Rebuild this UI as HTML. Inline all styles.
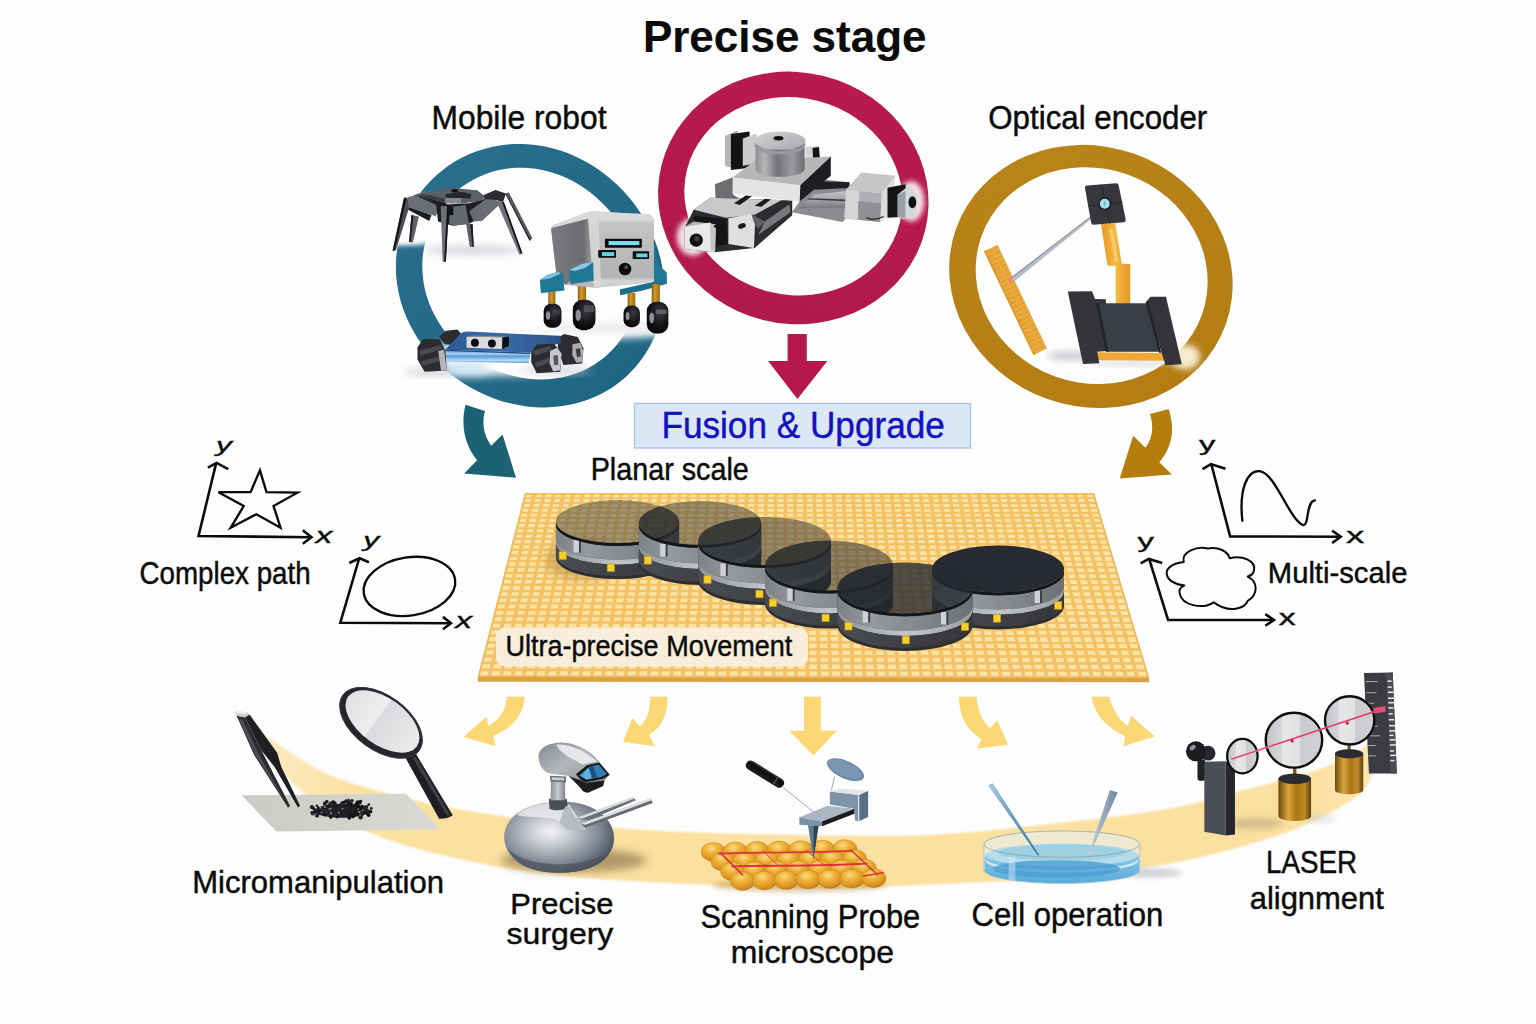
<!DOCTYPE html>
<html lang="en">
<head>
<meta charset="utf-8">
<title>Precise stage – Fusion &amp; Upgrade</title>
<style>
html,body{margin:0;padding:0;background:#fdfdfd;}
body{width:1536px;height:1024px;overflow:hidden;position:relative;font-family:"Liberation Sans",sans-serif;}
svg{position:absolute;left:0;top:0;display:block;}
text{font-family:"Liberation Sans",sans-serif;fill:#0b0b0b;}
.lbl{font-size:31px;}
.ax{font-size:24px;font-style:italic;}
</style>
</head>
<body>
<svg width="1536" height="1024" viewBox="0 0 1536 1024">
<defs>
  <filter id="b1" x="-20%" y="-20%" width="140%" height="140%"><feGaussianBlur stdDeviation="1"/></filter>
  <filter id="b2" x="-20%" y="-20%" width="140%" height="140%"><feGaussianBlur stdDeviation="2.2"/></filter>
  <filter id="b4" x="-30%" y="-30%" width="160%" height="160%"><feGaussianBlur stdDeviation="4"/></filter>
  <filter id="b8" x="-40%" y="-40%" width="180%" height="180%"><feGaussianBlur stdDeviation="8"/></filter>
  <filter id="b16" x="-50%" y="-50%" width="200%" height="200%"><feGaussianBlur stdDeviation="16"/></filter>
  <filter id="b30" x="-60%" y="-60%" width="220%" height="220%"><feGaussianBlur stdDeviation="30"/></filter>
  <filter id="b50" x="-80%" y="-80%" width="260%" height="260%"><feGaussianBlur stdDeviation="50"/></filter>
</defs>
<rect width="1536" height="1024" fill="#fdfdfd"/>
<!-- ===== rings ===== -->
<defs>
  <linearGradient id="gBlue" x1="0" y1="0" x2="1" y2="1">
    <stop offset="0" stop-color="#2b6f8e"/><stop offset="1" stop-color="#1c6580"/>
  </linearGradient>
  <linearGradient id="gRed" x1="0" y1="0" x2="0" y2="1">
    <stop offset="0" stop-color="#b81a4e"/><stop offset="1" stop-color="#b01a4a"/>
  </linearGradient>
  <linearGradient id="gGold" x1="0" y1="0" x2="1" y2="1">
    <stop offset="0" stop-color="#b9841a"/><stop offset="1" stop-color="#b27c12"/>
  </linearGradient>
</defs>
<g id="rings">
  <path fill-rule="evenodd" fill="url(#gBlue)" d="M663.3 275.0 C664.0 280.9 664.3 287.0 664.1 293.0 C663.9 299.1 663.3 305.2 662.2 311.2 C661.1 317.2 659.5 323.2 657.5 329.0 C655.4 334.8 652.9 340.6 650.0 346.0 C647.1 351.4 643.6 356.7 639.9 361.6 C636.1 366.5 631.9 371.2 627.4 375.4 C622.9 379.6 618.0 383.5 612.9 386.9 C607.8 390.3 602.3 393.4 596.8 395.9 C591.3 398.5 585.5 400.6 579.7 402.3 C574.0 404.0 568.0 405.3 562.1 406.1 C556.3 407.0 550.3 407.4 544.4 407.4 C538.6 407.5 532.7 407.1 527.0 406.4 C521.3 405.7 515.6 404.6 510.1 403.3 C504.6 402.0 499.2 400.3 493.9 398.4 C488.7 396.4 483.6 394.2 478.6 391.8 C473.7 389.3 468.9 386.6 464.2 383.7 C459.6 380.8 455.1 377.6 450.8 374.3 C446.5 370.9 442.4 367.3 438.5 363.5 C434.6 359.7 430.9 355.7 427.4 351.4 C423.9 347.2 420.6 342.8 417.6 338.2 C414.6 333.5 411.8 328.7 409.4 323.7 C406.9 318.7 404.8 313.5 402.9 308.2 C401.1 302.9 399.6 297.5 398.5 291.9 C397.3 286.4 396.5 280.7 396.1 275.0 C395.8 269.3 395.8 263.5 396.2 257.8 C396.6 252.0 397.4 246.3 398.6 240.6 C399.8 234.9 401.4 229.3 403.4 223.8 C405.5 218.4 407.9 213.0 410.7 207.8 C413.5 202.7 416.7 197.7 420.2 193.0 C423.7 188.3 427.6 183.8 431.7 179.7 C435.9 175.6 440.4 171.7 445.1 168.2 C449.8 164.7 454.8 161.5 459.9 158.8 C465.0 156.0 470.4 153.6 475.9 151.6 C481.3 149.6 487.0 148.0 492.6 146.7 C498.3 145.5 504.1 144.7 509.8 144.3 C515.5 143.9 521.3 143.9 527.0 144.2 C532.7 144.5 538.4 145.3 543.9 146.3 C549.5 147.4 555.0 148.8 560.3 150.6 C565.7 152.3 570.9 154.4 576.0 156.7 C581.1 159.0 586.0 161.7 590.8 164.6 C595.5 167.4 600.1 170.6 604.5 174.0 C608.9 177.3 613.2 181.0 617.2 184.8 C621.2 188.6 625.1 192.7 628.7 197.0 C632.3 201.2 635.8 205.7 638.9 210.4 C642.1 215.0 645.1 219.9 647.7 225.0 C650.4 230.0 652.8 235.3 654.9 240.7 C657.0 246.1 658.8 251.8 660.2 257.5 C661.6 263.2 662.7 269.1 663.3 275.0 Z M635.3 260.7 C634.2 256.1 632.8 251.5 631.1 247.1 C629.5 242.7 627.5 238.4 625.4 234.2 C623.2 230.1 620.8 226.1 618.3 222.3 C615.7 218.5 612.9 214.8 610.0 211.3 C607.0 207.9 603.9 204.5 600.6 201.4 C597.3 198.3 593.9 195.3 590.3 192.5 C586.7 189.8 583.0 187.2 579.1 184.8 C575.2 182.4 571.2 180.2 567.0 178.3 C562.9 176.4 558.6 174.7 554.3 173.3 C549.9 171.8 545.4 170.6 540.9 169.7 C536.3 168.9 531.7 168.2 527.0 168.0 C522.3 167.7 517.6 167.7 512.9 168.1 C508.2 168.4 503.5 169.1 498.9 170.1 C494.3 171.1 489.7 172.5 485.2 174.2 C480.8 175.9 476.4 177.9 472.3 180.2 C468.1 182.5 464.1 185.2 460.3 188.1 C456.6 191.0 453.0 194.2 449.7 197.7 C446.4 201.1 443.3 204.8 440.6 208.7 C437.8 212.5 435.3 216.6 433.2 220.8 C431.0 225.0 429.2 229.4 427.7 233.8 C426.1 238.3 424.9 242.9 424.1 247.4 C423.2 252.0 422.7 256.6 422.4 261.2 C422.2 265.8 422.3 270.5 422.7 275.0 C423.1 279.5 423.8 284.1 424.7 288.5 C425.7 292.9 427.0 297.2 428.5 301.4 C430.0 305.6 431.8 309.7 433.7 313.6 C435.7 317.6 438.0 321.4 440.4 325.0 C442.8 328.7 445.4 332.2 448.2 335.5 C451.0 338.8 454.0 342.0 457.1 344.9 C460.2 347.9 463.5 350.7 466.9 353.4 C470.3 356.0 473.8 358.5 477.5 360.8 C481.1 363.1 484.9 365.2 488.9 367.1 C492.8 369.0 496.8 370.7 501.0 372.2 C505.1 373.7 509.4 375.0 513.7 376.1 C518.0 377.1 522.5 378.0 527.0 378.5 C531.5 379.1 536.1 379.4 540.7 379.4 C545.4 379.4 550.1 379.1 554.7 378.5 C559.4 377.9 564.1 377.0 568.7 375.7 C573.3 374.4 577.9 372.8 582.3 370.9 C586.8 368.9 591.1 366.6 595.2 363.9 C599.4 361.3 603.4 358.3 607.0 355.0 C610.7 351.7 614.2 348.1 617.3 344.3 C620.4 340.4 623.3 336.3 625.7 332.0 C628.2 327.7 630.3 323.1 632.1 318.5 C633.8 313.9 635.2 309.1 636.2 304.2 C637.1 299.4 637.7 294.5 638.0 289.6 C638.3 284.7 638.1 279.8 637.7 275.0 C637.2 270.2 636.4 265.4 635.3 260.7 Z"/>
  <g transform="rotate(14 793.3 197.5)"><path fill-rule="evenodd" fill="url(#gRed)" d="M657.6 197.9 a135.8 125.7 0 1 0 271.6 0 a135.8 125.7 0 1 0 -271.6 0 Z M683.4 196.3 a109.7 98.5 0 1 1 219.4 0 a109.7 98.5 0 1 1 -219.4 0 Z"/></g>
  <g transform="rotate(19.5 1091 276.2)"><path fill-rule="evenodd" fill="url(#gGold)" d="M947.9 276.5 a143.1 130.1 0 1 0 286.2 0 a143.1 130.1 0 1 0 -286.2 0 Z M974.4 275.4 a117.0 107.3 0 1 1 234.0 0 a117.0 107.3 0 1 1 -234.0 0 Z"/></g>
</g>
<!-- ===== arrows from rings ===== -->
<g id="arrowsTop">
  <path d="M787.6 334 H806.8 V361 H827.4 L797.4 399 L768.1 361 H787.6 Z" fill="#b5194c"/>
  <g transform="translate(440 390) scale(0.097656)">
    <path d="M262 152 L460 215 C425 340 450 470 525 570 L640 455 L778 898 L247 855 L380 720 C250 560 210 350 262 152 Z" fill="#1c6274"/>
  </g>
  <g transform="translate(1090 390) scale(0.097656)">
    <path d="M615 245 L805 195 C870 390 850 580 710 740 L838 865 L305 905 L442 468 L568 592 C650 480 650 360 615 245 Z" fill="#b47d0d"/>
  </g>
</g>
<!-- ===== bottom band + arrows ===== -->
<defs>
  <linearGradient id="bandG" x1="0" y1="0" x2="1" y2="0" gradientUnits="userSpaceOnUse" >
    <stop offset="0" stop-color="#fbe3a4"/><stop offset="1" stop-color="#fbe3a4"/>
  </linearGradient>
  <linearGradient id="bandFade" x1="240" y1="0" x2="1400" y2="0" gradientUnits="userSpaceOnUse">
    <stop offset="0" stop-color="#fbe3a8" stop-opacity="0.6"/><stop offset="0.1" stop-color="#fbe0a0" stop-opacity="1"/><stop offset="0.92" stop-color="#fbe0a0" stop-opacity="1"/><stop offset="1" stop-color="#fbe3a8" stop-opacity="0.85"/>
  </linearGradient>
  <linearGradient id="glassG" x1="0" y1="0" x2="1" y2="0">
    <stop offset="0" stop-color="#dfe1e3"/><stop offset="0.42" stop-color="#eceeef"/><stop offset="0.45" stop-color="#d9dbde"/><stop offset="1" stop-color="#e9ebec"/>
  </linearGradient>
  <linearGradient id="sheetG" x1="0" y1="0" x2="1" y2="0">
    <stop offset="0" stop-color="#cbcbc6"/><stop offset="1" stop-color="#dadad4"/>
  </linearGradient>
</defs>
<path id="band" d="M248.0 722.0 C255.0 727.0 275.7 742.8 290.0 752.0 C304.3 761.2 313.2 768.9 334.0 777.0 C354.8 785.1 387.0 794.0 415.0 800.5 C443.0 807.0 468.4 811.4 502.0 816.0 C535.6 820.6 581.5 825.2 616.5 828.0 C651.5 830.8 675.4 831.8 712.0 833.0 C748.6 834.2 798.0 835.2 836.0 835.5 C874.0 835.8 902.7 836.6 940.0 834.5 C977.3 832.4 1021.7 827.3 1060.0 823.0 C1098.3 818.7 1139.3 814.0 1170.0 808.5 C1200.7 803.0 1219.2 796.5 1244.0 790.0 C1268.8 783.5 1298.0 777.0 1318.5 769.5 C1339.0 762.0 1355.1 755.2 1366.7 745.0 C1378.3 734.8 1384.5 714.2 1388.0 708.0 L1390.0 712.0 C1387.3 721.7 1379.7 755.8 1374.0 770.0 C1368.3 784.2 1367.9 787.8 1355.6 797.3 C1343.3 806.8 1321.0 818.2 1300.0 827.0 C1279.0 835.8 1253.6 843.5 1229.4 850.0 C1205.2 856.5 1183.2 861.3 1155.0 866.0 C1126.8 870.7 1095.8 875.0 1060.0 878.0 C1024.2 881.0 977.3 882.3 940.0 884.0 C902.7 885.7 874.0 887.8 836.0 888.0 C798.0 888.2 756.4 886.9 712.0 885.0 C667.6 883.1 610.0 880.5 569.5 876.5 C529.0 872.5 501.2 868.0 468.7 861.0 C436.2 854.0 402.8 846.3 374.7 834.5 C346.6 822.7 320.8 808.1 300.0 790.0 C279.2 771.9 258.3 736.7 250.0 726.0 Z" fill="url(#bandFade)" filter="url(#b1)"/>
<!-- ===== pale yellow arrows (4.0421x zoom) ===== -->
<g id="yarrows" fill="#fbd876">
  <g transform="translate(440 680) scale(0.247396)">
    <path d="M270 68 L343 68 C335 150 290 195 215 225 L225 268 L95 230 L188 148 L195 185 C245 160 268 115 270 68 Z"/>
    <path d="M850 68 L920 68 C920 150 890 195 845 222 L868 268 L740 250 L778 155 L808 188 C840 160 850 115 850 68 Z"/>
  </g>
  <g transform="translate(780 680) scale(0.247396)">
    <path d="M97 68 L165 68 L165 205 L230 205 L135 305 L38 205 L97 205 Z"/>
    <path d="M723 68 L795 68 C800 130 820 170 850 195 L878 162 L922 262 L795 278 L815 240 C750 200 725 140 723 68 Z"/>
    <path d="M1260 68 L1332 68 C1345 125 1370 160 1405 185 L1420 145 L1515 228 L1388 268 L1395 228 C1320 190 1270 140 1260 68 Z"/>
  </g>
</g>
<!-- ===== planar scale plate + stages ===== -->
<defs>
  <clipPath id="plateClip"><path d="M525 493.3 L1094 493.3 L1149 677.5 L477.8 677 Z"/></clipPath>
  <pattern id="grid" width="11.3" height="7.1" patternUnits="userSpaceOnUse" patternTransform="translate(525 494.5)">
    <rect width="11.3" height="7.1" fill="#f3c264"/>
    <rect x="2.6" y="1.7" width="6.6" height="3.9" fill="#fbe3a0"/>
  </pattern>
  <linearGradient id="dSideHi" x1="0" y1="0" x2="1" y2="0">
    <stop offset="0" stop-color="#7d8085"/><stop offset="0.25" stop-color="#96999e"/><stop offset="0.6" stop-color="#85888d"/><stop offset="1" stop-color="#6c6f74"/>
  </linearGradient>
  <linearGradient id="dStripe" x1="0" y1="0" x2="1" y2="0">
    <stop offset="0" stop-color="#8e9196"/><stop offset="0.5" stop-color="#c3c6ca"/><stop offset="1" stop-color="#9a9da2"/>
  </linearGradient>
  <linearGradient id="dLow" x1="0" y1="0" x2="1" y2="0">
    <stop offset="0" stop-color="#4a4d52"/><stop offset="0.5" stop-color="#3e4045"/><stop offset="1" stop-color="#34363b"/>
  </linearGradient>
</defs>
<g id="plate">
  <path d="M477.8 676 L1149 677 L1149.3 682.2 L477.8 681.8 Z" fill="#d9a244"/>
  <path d="M525 493.3 L1094 493.3 L1149 677.5 L477.8 677 Z" fill="#fbe3a3"/>
  <g clip-path="url(#plateClip)" fill="none" stroke="#f4c266">
    <path d="M525.0 493.3L477.8 677.0M534.6 493.3L489.2 677.0M544.3 493.3L500.6 677.0M553.9 493.3L511.9 677.0M563.6 493.3L523.3 677.0M573.2 493.3L534.7 677.0M582.9 493.3L546.1 677.1M592.5 493.3L557.4 677.1M602.2 493.3L568.8 677.1M611.8 493.3L580.2 677.1M621.4 493.3L591.6 677.1M631.1 493.3L602.9 677.1M640.7 493.3L614.3 677.1M650.4 493.3L625.7 677.1M660.0 493.3L637.1 677.1M669.7 493.3L648.4 677.1M679.3 493.3L659.8 677.1M688.9 493.3L671.2 677.1M698.6 493.3L682.6 677.2M708.2 493.3L693.9 677.2M717.9 493.3L705.3 677.2M727.5 493.3L716.7 677.2M737.2 493.3L728.1 677.2M746.8 493.3L739.5 677.2M756.5 493.3L750.8 677.2M766.1 493.3L762.2 677.2M775.7 493.3L773.6 677.2M785.4 493.3L785.0 677.2M795.0 493.3L796.3 677.2M804.7 493.3L807.7 677.2M814.3 493.3L819.1 677.3M824.0 493.3L830.5 677.3M833.6 493.3L841.8 677.3M843.3 493.3L853.2 677.3M852.9 493.3L864.6 677.3M862.5 493.3L876.0 677.3M872.2 493.3L887.3 677.3M881.8 493.3L898.7 677.3M891.5 493.3L910.1 677.3M901.1 493.3L921.5 677.3M910.8 493.3L932.9 677.3M920.4 493.3L944.2 677.3M930.1 493.3L955.6 677.4M939.7 493.3L967.0 677.4M949.3 493.3L978.4 677.4M959.0 493.3L989.7 677.4M968.6 493.3L1001.1 677.4M978.3 493.3L1012.5 677.4M987.9 493.3L1023.9 677.4M997.6 493.3L1035.2 677.4M1007.2 493.3L1046.6 677.4M1016.8 493.3L1058.0 677.4M1026.5 493.3L1069.4 677.4M1036.1 493.3L1080.7 677.4M1045.8 493.3L1092.1 677.5M1055.4 493.3L1103.5 677.5M1065.1 493.3L1114.9 677.5M1074.7 493.3L1126.2 677.5M1084.4 493.3L1137.6 677.5M1094.0 493.3L1149.0 677.5" stroke-width="3.6"/>
    <path d="M525.0 493.3L1094.0 493.3" stroke-width="1.90"/>
    <path d="M523.8 498.1L1095.4 498.1" stroke-width="1.93"/>
    <path d="M522.5 502.9L1096.9 502.9" stroke-width="1.96"/>
    <path d="M521.3 507.8L1098.3 507.9" stroke-width="2.00"/>
    <path d="M520.0 512.8L1099.8 512.9" stroke-width="2.03"/>
    <path d="M518.7 517.9L1101.4 517.9" stroke-width="2.06"/>
    <path d="M517.4 523.0L1102.9 523.1" stroke-width="2.09"/>
    <path d="M516.0 528.2L1104.5 528.3" stroke-width="2.13"/>
    <path d="M514.7 533.6L1106.1 533.7" stroke-width="2.16"/>
    <path d="M513.3 538.9L1107.7 539.1" stroke-width="2.19"/>
    <path d="M511.9 544.4L1109.3 544.5" stroke-width="2.22"/>
    <path d="M510.4 549.9L1111.0 550.1" stroke-width="2.25"/>
    <path d="M509.0 555.5L1112.6 555.7" stroke-width="2.29"/>
    <path d="M507.5 561.2L1114.3 561.4" stroke-width="2.32"/>
    <path d="M506.1 567.0L1116.1 567.2" stroke-width="2.35"/>
    <path d="M504.6 572.9L1117.8 573.1" stroke-width="2.38"/>
    <path d="M503.0 578.8L1119.6 579.0" stroke-width="2.42"/>
    <path d="M501.5 584.8L1121.4 585.0" stroke-width="2.45"/>
    <path d="M499.9 590.9L1123.2 591.1" stroke-width="2.48"/>
    <path d="M498.3 597.0L1125.1 597.3" stroke-width="2.51"/>
    <path d="M496.7 603.3L1126.9 603.6" stroke-width="2.55"/>
    <path d="M495.1 609.6L1128.8 609.9" stroke-width="2.58"/>
    <path d="M493.5 616.0L1130.7 616.3" stroke-width="2.61"/>
    <path d="M491.8 622.4L1132.7 622.8" stroke-width="2.64"/>
    <path d="M490.1 629.0L1134.6 629.4" stroke-width="2.67"/>
    <path d="M488.4 635.6L1136.6 636.0" stroke-width="2.71"/>
    <path d="M486.7 642.3L1138.6 642.7" stroke-width="2.74"/>
    <path d="M485.0 649.1L1140.6 649.5" stroke-width="2.77"/>
    <path d="M483.2 656.0L1142.7 656.4" stroke-width="2.80"/>
    <path d="M481.4 662.9L1144.8 663.4" stroke-width="2.84"/>
    <path d="M479.6 669.9L1146.9 670.4" stroke-width="2.87"/>
    <path d="M477.8 677.0L1149.0 677.5" stroke-width="2.90"/>
    <path d="M525 493.3 L1094 493.3 L1149 677.5 L477.8 677 Z" stroke="#efb858" stroke-width="2.5"/>
  </g>
  <ellipse cx="585" cy="560" rx="40" ry="20" fill="#b98f42" opacity="0.55" filter="url(#b4)"/>
</g>
<g id="disk1">
  <path d="M555.9 521.6 A61.6 21.5 0 0 0 679.1 521.6 L679.1 557.6 A61.6 21.5 0 0 1 555.9 557.6 Z" fill="#2c2e32"/>
  <path d="M555.9 524.6 A61.6 21.5 0 0 0 679.1 524.6 L679.1 538.2 A61.6 21.5 0 0 1 555.9 538.2 Z" fill="url(#dSideHi)"/>
  <path d="M555.9 538.2 A61.6 21.5 0 0 0 679.1 538.2 L679.1 543.2 A61.6 21.5 0 0 1 555.9 543.2 Z" fill="url(#dStripe)"/>
  <path d="M555.9 543.2 A61.6 21.5 0 0 0 679.1 543.2 L679.1 554.7 A61.6 21.5 0 0 1 555.9 554.7 Z" fill="url(#dLow)"/>
  <rect x="573.5" y="540.0" width="5.5" height="12.5" fill="#cfd1d5"/>
  <rect x="579.0" y="540.0" width="1.8" height="12.5" fill="#3a3c41"/>
  <rect x="559.1" y="551.8" width="7.2" height="7.6" fill="#f6cf2c" stroke="#c79a14" stroke-width="0.6"/>
  <rect x="607.2" y="563.9" width="7.2" height="7.6" fill="#f6cf2c" stroke="#c79a14" stroke-width="0.6"/>
  <path d="M555.9 521.6 A61.6 21.5 0 0 0 679.1 521.6 L679.1 524.4 A61.6 21.5 0 0 1 555.9 524.4 Z" fill="#15161a"/>
  <ellipse cx="617.5" cy="521.6" rx="61.6" ry="21.5" fill="#3c3e42" opacity="0.48"/>
</g>
<g id="disk2">
  <path d="M638.8 523.0 A61.2 22.0 0 0 0 761.2 523.0 L761.2 563.0 A61.2 22.0 0 0 1 638.8 563.0 Z" fill="#2c2e32"/>
  <path d="M638.8 526.0 A61.2 22.0 0 0 0 761.2 526.0 L761.2 541.4 A61.2 22.0 0 0 1 638.8 541.4 Z" fill="url(#dSideHi)"/>
  <path d="M638.8 541.4 A61.2 22.0 0 0 0 761.2 541.4 L761.2 547.0 A61.2 22.0 0 0 1 638.8 547.0 Z" fill="url(#dStripe)"/>
  <path d="M638.8 547.0 A61.2 22.0 0 0 0 761.2 547.0 L761.2 559.8 A61.2 22.0 0 0 1 638.8 559.8 Z" fill="url(#dLow)"/>
  <rect x="660.2" y="544.0" width="5.5" height="12.5" fill="#cfd1d5"/>
  <rect x="665.7" y="544.0" width="1.8" height="12.5" fill="#3a3c41"/>
  <rect x="644.2" y="556.5" width="7.2" height="7.6" fill="#f6cf2c" stroke="#c79a14" stroke-width="0.6"/>
  <path d="M638.8 523.0 A61.2 22.0 0 0 0 761.2 523.0 L761.2 525.8 A61.2 22.0 0 0 1 638.8 525.8 Z" fill="#15161a"/>
  <ellipse cx="700.0" cy="523.0" rx="61.2" ry="22.0" fill="#36393e" opacity="0.50"/>
  <clipPath id="dc2"><ellipse cx="700.0" cy="523.0" rx="61.2" ry="22.0"/></clipPath>
  <path clip-path="url(#dc2)" d="M555.9 521.6 A61.6 21.5 0 0 1 679.1 521.6 L679.1 557.6 A61.6 21.5 0 0 1 555.9 557.6 Z" fill="#23262b" opacity="0.6"/>
</g>
<g id="disk3">
  <path d="M698.2 541.0 A66.4 24.0 0 0 0 831.0 541.0 L831.0 581.0 A66.4 24.0 0 0 1 698.2 581.0 Z" fill="#2c2e32"/>
  <path d="M698.2 544.0 A66.4 24.0 0 0 0 831.0 544.0 L831.0 559.4 A66.4 24.0 0 0 1 698.2 559.4 Z" fill="url(#dSideHi)"/>
  <path d="M698.2 559.4 A66.4 24.0 0 0 0 831.0 559.4 L831.0 565.0 A66.4 24.0 0 0 1 698.2 565.0 Z" fill="url(#dStripe)"/>
  <path d="M698.2 565.0 A66.4 24.0 0 0 0 831.0 565.0 L831.0 577.8 A66.4 24.0 0 0 1 698.2 577.8 Z" fill="url(#dLow)"/>
  <rect x="720.4" y="563.5" width="5.5" height="12.5" fill="#cfd1d5"/>
  <rect x="725.9" y="563.5" width="1.8" height="12.5" fill="#3a3c41"/>
  <rect x="703.9" y="575.7" width="7.2" height="7.6" fill="#f6cf2c" stroke="#c79a14" stroke-width="0.6"/>
  <rect x="755.9" y="590.2" width="7.2" height="7.6" fill="#f6cf2c" stroke="#c79a14" stroke-width="0.6"/>
  <path d="M698.2 541.0 A66.4 24.0 0 0 0 831.0 541.0 L831.0 543.8 A66.4 24.0 0 0 1 698.2 543.8 Z" fill="#15161a"/>
  <ellipse cx="764.6" cy="541.0" rx="66.4" ry="24.0" fill="#2e3137" opacity="0.50"/>
  <clipPath id="dc3"><ellipse cx="764.6" cy="541.0" rx="66.4" ry="24.0"/></clipPath>
  <path clip-path="url(#dc3)" d="M638.8 523.0 A61.2 22.0 0 0 1 761.2 523.0 L761.2 563.0 A61.2 22.0 0 0 1 638.8 563.0 Z" fill="#23262b" opacity="0.6"/>
</g>
<g id="disk4">
  <path d="M765.0 565.6 A64.0 25.0 0 0 0 893.0 565.6 L893.0 603.6 A64.0 25.0 0 0 1 765.0 603.6 Z" fill="#2c2e32"/>
  <path d="M765.0 568.6 A64.0 25.0 0 0 0 893.0 568.6 L893.0 583.1 A64.0 25.0 0 0 1 765.0 583.1 Z" fill="url(#dSideHi)"/>
  <path d="M765.0 583.1 A64.0 25.0 0 0 0 893.0 583.1 L893.0 588.4 A64.0 25.0 0 0 1 765.0 588.4 Z" fill="url(#dStripe)"/>
  <path d="M765.0 588.4 A64.0 25.0 0 0 0 893.0 588.4 L893.0 600.6 A64.0 25.0 0 0 1 765.0 600.6 Z" fill="url(#dLow)"/>
  <rect x="787.3" y="588.4" width="5.5" height="12.5" fill="#cfd1d5"/>
  <rect x="792.8" y="588.4" width="1.8" height="12.5" fill="#3a3c41"/>
  <rect x="769.4" y="599.0" width="7.2" height="7.6" fill="#f6cf2c" stroke="#c79a14" stroke-width="0.6"/>
  <rect x="822.0" y="614.1" width="7.2" height="7.6" fill="#f6cf2c" stroke="#c79a14" stroke-width="0.6"/>
  <path d="M765.0 565.6 A64.0 25.0 0 0 0 893.0 565.6 L893.0 568.4 A64.0 25.0 0 0 1 765.0 568.4 Z" fill="#15161a"/>
  <ellipse cx="829.0" cy="565.6" rx="64.0" ry="25.0" fill="#2a2d33" opacity="0.55"/>
  <clipPath id="dc4"><ellipse cx="829.0" cy="565.6" rx="64.0" ry="25.0"/></clipPath>
  <path clip-path="url(#dc4)" d="M698.2 541.0 A66.4 24.0 0 0 1 831.0 541.0 L831.0 581.0 A66.4 24.0 0 0 1 698.2 581.0 Z" fill="#23262b" opacity="0.6"/>
</g>
<g id="disk6">
  <path d="M932.0 569.0 A66.0 23.5 0 0 0 1064.0 569.0 L1064.0 606.0 A66.0 23.5 0 0 1 932.0 606.0 Z" fill="#2c2e32"/>
  <path d="M932.0 572.0 A66.0 23.5 0 0 0 1064.0 572.0 L1064.0 586.0 A66.0 23.5 0 0 1 932.0 586.0 Z" fill="url(#dSideHi)"/>
  <path d="M932.0 586.0 A66.0 23.5 0 0 0 1064.0 586.0 L1064.0 591.2 A66.0 23.5 0 0 1 932.0 591.2 Z" fill="url(#dStripe)"/>
  <path d="M932.0 591.2 A66.0 23.5 0 0 0 1064.0 591.2 L1064.0 603.0 A66.0 23.5 0 0 1 932.0 603.0 Z" fill="url(#dLow)"/>
  <rect x="1034.6" y="590.5" width="5.5" height="12.5" fill="#cfd1d5"/>
  <rect x="1040.1" y="590.5" width="1.8" height="12.5" fill="#3a3c41"/>
  <rect x="993.4" y="614.6" width="7.2" height="7.6" fill="#f6cf2c" stroke="#c79a14" stroke-width="0.6"/>
  <rect x="1054.6" y="601.6" width="7.2" height="7.6" fill="#f6cf2c" stroke="#c79a14" stroke-width="0.6"/>
  <path d="M932.0 569.0 A66.0 23.5 0 0 0 1064.0 569.0 L1064.0 571.8 A66.0 23.5 0 0 1 932.0 571.8 Z" fill="#15161a"/>
  <ellipse cx="998.0" cy="569.0" rx="66.0" ry="23.5" fill="#282b31" opacity="1.00"/>
</g>
<g id="disk5">
  <path d="M837.5 588.0 A67.5 25.5 0 0 0 972.5 588.0 L972.5 625.5 A67.5 25.5 0 0 1 837.5 625.5 Z" fill="#2c2e32"/>
  <path d="M837.5 591.0 A67.5 25.5 0 0 0 972.5 591.0 L972.5 605.2 A67.5 25.5 0 0 1 837.5 605.2 Z" fill="url(#dSideHi)"/>
  <path d="M837.5 605.2 A67.5 25.5 0 0 0 972.5 605.2 L972.5 610.5 A67.5 25.5 0 0 1 837.5 610.5 Z" fill="url(#dStripe)"/>
  <path d="M837.5 610.5 A67.5 25.5 0 0 0 972.5 610.5 L972.5 622.5 A67.5 25.5 0 0 1 837.5 622.5 Z" fill="url(#dLow)"/>
  <rect x="862.8" y="610.0" width="5.5" height="12.5" fill="#cfd1d5"/>
  <rect x="868.3" y="610.0" width="1.8" height="12.5" fill="#3a3c41"/>
  <rect x="941.0" y="612.0" width="5.5" height="12.5" fill="#cfd1d5"/>
  <rect x="946.5" y="612.0" width="1.8" height="12.5" fill="#3a3c41"/>
  <rect x="844.9" y="622.4" width="7.2" height="7.6" fill="#f6cf2c" stroke="#c79a14" stroke-width="0.6"/>
  <rect x="902.2" y="636.2" width="7.2" height="7.6" fill="#f6cf2c" stroke="#c79a14" stroke-width="0.6"/>
  <rect x="961.4" y="622.9" width="7.2" height="7.6" fill="#f6cf2c" stroke="#c79a14" stroke-width="0.6"/>
  <path d="M837.5 588.0 A67.5 25.5 0 0 0 972.5 588.0 L972.5 590.8 A67.5 25.5 0 0 1 837.5 590.8 Z" fill="#15161a"/>
  <ellipse cx="905.0" cy="588.0" rx="67.5" ry="25.5" fill="#26292f" opacity="0.80"/>
  <clipPath id="dc5"><ellipse cx="905.0" cy="588.0" rx="67.5" ry="25.5"/></clipPath>
  <path clip-path="url(#dc5)" d="M765.0 565.6 A64.0 25.0 0 0 1 893.0 565.6 L893.0 603.6 A64.0 25.0 0 0 1 765.0 603.6 Z" fill="#23262b" opacity="0.6"/>
</g>
<!-- ===== spider robot (coords in 8.533x zoom space of region 380,160) ===== -->
<g id="spider" transform="translate(380 160) scale(0.117188)">
  <!-- white glow interrupting ring -->
  <path d="M60 340 L300 300 L520 300 L560 420 L520 690 L330 725 L60 735 Z" fill="#fdfdfd" filter="url(#b16)"/>
  <path d="M100 340 L300 300 L500 300 L540 420 L500 650 L100 670 Z" fill="#fdfdfd"/>
  <!-- ground shadow -->
  <ellipse cx="800" cy="770" rx="420" ry="38" fill="#c9ccd3" opacity="0.75" filter="url(#b30)"/>
  <!-- far right leg -->
  <path d="M1068 285 L1100 278 L1300 668 L1277 688 Z" fill="#55585e"/>
  <path d="M1068 285 L1080 300 L1285 682 L1277 688 Z" fill="#17181b"/>
  <!-- back legs -->
  <path d="M268 470 L332 482 L280 705 L248 700 Z" fill="#5d6066"/>
  <path d="M268 470 L285 474 L262 702 L248 700 Z" fill="#1b1c20"/>
  <path d="M735 545 L790 548 L800 742 L766 740 Z" fill="#5c5f65"/>
  <path d="M770 548 L790 548 L800 742 L790 742 Z" fill="#1a1b1f"/>
  <!-- far-left leg -->
  <path d="M205 322 L272 330 L135 772 L108 775 Z" fill="#4c4f55"/>
  <path d="M205 322 L228 320 L125 772 L108 775 Z" fill="#141518"/>
  <path d="M290 296 L430 320 L500 392 L300 330 Z" fill="#2a2c30"/>
  <path d="M420 322 L560 366 L600 400 L480 388 Z" fill="#1d1e23"/>
  <!-- left thigh -->
  <path d="M250 400 L440 470 L420 520 L240 425 Z" fill="#1c1d21"/>
  <path d="M235 318 L300 300 L500 395 L478 480 L245 405 Z" fill="#6b6e74"/>
  <!-- body lower -->
  <path d="M480 385 L760 370 L900 330 L880 480 L760 545 L620 562 L495 525 Z" fill="#1d1e23"/>
  <path d="M600 400 L730 385 L760 545 L620 562 L590 540 Z" fill="#64676d"/>
  <path d="M590 400 L625 400 L625 470 L590 470 Z" fill="#101114"/>
  <!-- right thigh -->
  <path d="M760 440 L900 335 L990 340 L1015 385 L870 520 L800 525 Z" fill="#696c72"/>
  <path d="M860 310 L985 255 L1075 285 L1050 360 L990 342 L900 338 Z" fill="#2a2c30"/>
  <!-- dome -->
  <path d="M300 292 L600 236 L830 258 L895 312 L870 345 L700 372 L560 368 L420 325 Z" fill="#5b5e64"/>
  <path d="M300 292 L420 325 L560 368 L555 330 L430 300 Z" fill="#3a3c41"/>
  <path d="M560 292 L690 270 L780 290 L770 330 L690 325 L560 322 Z" fill="#25272b"/>
  <path d="M556 325 L690 325 L692 366 L556 366 Z" fill="#84878d"/>
  <ellipse cx="638" cy="262" rx="30" ry="15" fill="#111215"/>
  <!-- front legs -->
  <path d="M518 395 L585 392 L562 868 L535 868 Z" fill="#6d7076"/>
  <path d="M572 393 L590 392 L562 868 L548 868 Z" fill="#131417"/>
  <path d="M990 345 L1052 358 L1215 795 L1190 808 Z" fill="#6e7177"/>
  <path d="M1040 355 L1060 362 L1215 795 L1203 802 Z" fill="#131417"/>
</g>
<!-- ===== box robot (7.3133x zoom of region 530,200) ===== -->
<defs>
  <linearGradient id="bxFront" x1="0" y1="0" x2="0" y2="1">
    <stop offset="0" stop-color="#dcdcdc"/><stop offset="0.1" stop-color="#c3c3c4"/><stop offset="0.85" stop-color="#b4b4b6"/><stop offset="0.9" stop-color="#d6d6d6"/><stop offset="1" stop-color="#c9c9ca"/>
  </linearGradient>
  <linearGradient id="bxSide" x1="0" y1="0" x2="1" y2="0">
    <stop offset="0" stop-color="#7a7b7f"/><stop offset="0.8" stop-color="#6c6d71"/><stop offset="1" stop-color="#9a9a9d"/>
  </linearGradient>
  <radialGradient id="whl" cx="0.6" cy="0.35" r="0.7">
    <stop offset="0" stop-color="#3a3c40"/><stop offset="0.6" stop-color="#141518"/><stop offset="1" stop-color="#050506"/>
  </radialGradient>
  <linearGradient id="strut" x1="0" y1="0" x2="1" y2="0">
    <stop offset="0" stop-color="#8a5c10"/><stop offset="0.4" stop-color="#d39a2c"/><stop offset="1" stop-color="#9a6a14"/>
  </linearGradient>
</defs>
<g id="boxrobot" transform="translate(530 200) scale(0.136737)">
  <!-- soft white glow + ground shadow -->
  <ellipse cx="560" cy="930" rx="560" ry="80" fill="#fdfdfd" filter="url(#b30)"/>
  <path d="M600 560 L1010 560 L1030 960 L640 960 Z" fill="#fdfdfd" filter="url(#b30)"/>
  <path d="M620 580 L1000 580 L1010 900 L640 900 Z" fill="#fdfdfd"/>
  <ellipse cx="560" cy="935" rx="470" ry="30" fill="#dfe1e6" opacity="0.8" filter="url(#b30)"/>
  <!-- back-right blue bracket -->
  <path d="M905 300 L935 470 L1000 530 L1002 612 L905 622 Z" fill="#1e7896"/>
  <path d="M655 655 L905 598 L1002 612 L825 662 L660 697 Z" fill="#1b6f8c"/>
  <!-- struts -->
  <rect x="134" y="665" width="52" height="100" fill="url(#strut)"/>
  <rect x="350" y="600" width="60" height="140" fill="url(#strut)"/>
  <rect x="714" y="680" width="56" height="105" fill="url(#strut)"/>
  <rect x="890" y="615" width="60" height="140" fill="url(#strut)"/>
  <!-- body -->
  <path d="M155 215 Q158 190 185 180 L425 88 Q440 82 470 84 L860 105 Q895 110 905 145 L905 600 L470 642 L262 622 L195 560 Z" fill="#b9b9bb"/>
  <path d="M155 215 Q158 190 185 180 L425 120 L450 450 L262 622 L195 560 Z" fill="url(#bxSide)"/>
  <path d="M425 130 L905 140 L905 600 L470 642 L450 450 Z" fill="url(#bxFront)"/>
  <path d="M160 205 Q165 185 185 180 L425 88 Q440 82 470 84 L860 105 Q895 110 903 150 L430 135 L180 200 Z" fill="#dadada"/>
  <path d="M425 88 Q440 82 470 84 L500 86 L520 640 L470 642 L450 450 L425 130 Z" fill="#d9d9da" opacity="0.75"/>
  <!-- face -->
  <rect x="548" y="284" width="270" height="65" rx="6" fill="#0c0d10"/>
  <rect x="574" y="300" width="226" height="30" fill="#7fdcea"/>
  <rect x="499" y="365" width="130" height="58" rx="6" fill="#0c0d10"/>
  <rect x="526" y="381" width="90" height="29" fill="#63d3e2"/>
  <rect x="751" y="374" width="120" height="58" rx="6" fill="#0c0d10"/>
  <rect x="777" y="391" width="82" height="28" fill="#63d3e2"/>
  <circle cx="695" cy="505" r="46" fill="#0b0c0e"/>
  <circle cx="703" cy="492" r="14" fill="#4a4c50"/>
  <!-- front blue brackets -->
  <path d="M72 585 L130 547 L212 525 L242 542 L252 662 L80 682 Z" fill="#1e7896"/>
  <path d="M72 585 L130 547 L212 525 L222 540 L150 572 Z" fill="#7fc0dc"/>
  <path d="M288 512 L380 466 L462 455 L466 590 L296 617 Z" fill="#1e7896"/>
  <path d="M288 512 L380 466 L462 455 L400 498 L330 520 Z" fill="#8fc8e0"/>
  <!-- wheels -->
  <rect x="100" y="758" width="130" height="176" rx="55" fill="url(#whl)"/>
  <ellipse cx="132" cy="845" rx="16" ry="32" fill="#8d8f94"/>
  <rect x="313" y="730" width="166" height="222" rx="70" fill="url(#whl)"/>
  <ellipse cx="353" cy="842" rx="20" ry="42" fill="#8d8f94"/>
  <rect x="684" y="772" width="120" height="158" rx="52" fill="url(#whl)"/>
  <ellipse cx="714" cy="850" rx="14" ry="30" fill="#8d8f94"/>
  <rect x="854" y="745" width="158" height="232" rx="68" fill="url(#whl)"/>
  <ellipse cx="890" cy="862" rx="18" ry="40" fill="#8d8f94"/>
  <rect x="395" y="770" width="75" height="50" rx="6" fill="#55575c" opacity="0.8"/>
  <rect x="920" y="800" width="80" height="34" rx="6" fill="#6b6d72" opacity="0.8"/>
  <rect x="165" y="800" width="55" height="40" rx="6" fill="#3b3d42" opacity="0.8"/>
</g>
<!-- ===== flat mecanum robot (7.3143x zoom of region 400,310) ===== -->
<defs>
  <linearGradient id="frTop" x1="0" y1="0" x2="1" y2="0">
    <stop offset="0" stop-color="#2d5a94"/><stop offset="0.5" stop-color="#3a6aa6"/><stop offset="1" stop-color="#2a5288"/>
  </linearGradient>
  <linearGradient id="frFront" x1="0" y1="0" x2="0" y2="1">
    <stop offset="0" stop-color="#4f8ccc"/><stop offset="0.3" stop-color="#a9d3f3"/><stop offset="0.5" stop-color="#5f9bd6"/><stop offset="0.8" stop-color="#b4dcf7"/><stop offset="1" stop-color="#5a95cf"/>
  </linearGradient>
</defs>
<g id="flatrobot" transform="translate(400 310) scale(0.136719)">
  <!-- glow hiding ring under robot -->
  <path d="M300 240 L1000 260 L960 470 L600 480 L330 470 Z" fill="#fdfdfd" filter="url(#b30)"/>
  <ellipse cx="480" cy="420" rx="170" ry="55" fill="#cfe6f6" filter="url(#b30)" opacity="0.9"/>
  <!-- shadows -->
  <ellipse cx="230" cy="455" rx="200" ry="22" fill="#b9bcc2" opacity="0.8" filter="url(#b30)"/>
  <ellipse cx="1150" cy="440" rx="260" ry="26" fill="#c5c8ce" opacity="0.8" filter="url(#b30)"/>
  <!-- back wheels -->
  <path d="M285 195 L335 152 L420 143 L455 182 L440 260 L330 250 Z" fill="#2b2c30"/>
  <path d="M1150 205 L1200 175 L1300 198 L1342 280 L1332 392 L1195 402 L1158 300 Z" fill="#2c2d31"/>
  <path d="M1262 250 L1320 240 L1340 300 L1330 380 L1290 385 L1260 330 Z" fill="#a9abb0"/>
  <path d="M1285 285 L1318 280 L1322 340 L1295 345 Z" fill="#3a3b3f"/>
  <!-- chassis -->
  <path d="M330 290 L445 170 Q460 158 490 158 L1170 188 L1180 240 L955 312 Z" fill="url(#frTop)"/>
  <path d="M330 290 L955 312 L942 388 L342 376 Z" fill="url(#frFront)"/>
  <path d="M330 290 L955 312 L953 322 L332 300 Z" fill="#234a80"/>
  <!-- sensor box -->
  <path d="M487 195 L750 200 L746 286 L487 276 Z" fill="#d9dadb"/>
  <path d="M750 200 L797 194 L796 264 L746 286 Z" fill="#101114"/>
  <path d="M487 195 L530 186 L797 194 L750 200 Z" fill="#8d8f93"/>
  <circle cx="548" cy="240" r="29" fill="#0a0a0c"/>
  <circle cx="672" cy="245" r="29" fill="#0a0a0c"/>
  <!-- front wheels -->
  <path d="M128 272 L170 212 L290 214 L332 300 L342 442 L180 452 L128 362 Z" fill="#2b2c30"/>
  <path d="M140 300 L300 255 L310 285 L150 335 Z" fill="#4a4b50"/>
  <path d="M150 375 L315 335 L322 365 L170 410 Z" fill="#48494e"/>
  <path d="M280 300 L322 290 L342 440 L300 445 Z" fill="#b4b6ba"/>
  <path d="M960 312 L1000 252 L1120 246 L1182 300 L1172 452 L1000 462 L960 382 Z" fill="#2b2c30"/>
  <path d="M975 300 L1100 262 L1110 292 L985 335 Z" fill="#4a4b50"/>
  <path d="M985 385 L1100 345 L1110 375 L995 420 Z" fill="#48494e"/>
  <path d="M1098 300 L1150 275 L1182 320 L1172 440 L1120 450 L1095 390 Z" fill="#c3c5c9"/>
  <path d="M1120 335 L1155 330 L1158 400 L1128 405 Z" fill="#55575c"/>
</g>
<!-- ===== precise XY stage (5.9077x zoom of region 670,120) ===== -->
<defs>
  <linearGradient id="cyl" x1="0" y1="0" x2="1" y2="0">
    <stop offset="0" stop-color="#8c8d90"/><stop offset="0.18" stop-color="#b5b6b8"/><stop offset="0.45" stop-color="#737477"/><stop offset="0.75" stop-color="#9a9b9e"/><stop offset="1" stop-color="#6a6b6e"/>
  </linearGradient>
  <linearGradient id="cylTop" x1="0" y1="0" x2="1" y2="1">
    <stop offset="0" stop-color="#d2d3d5"/><stop offset="1" stop-color="#a9aaad"/>
  </linearGradient>
  <linearGradient id="railG" x1="0" y1="0" x2="0" y2="1">
    <stop offset="0" stop-color="#c4c5c7"/><stop offset="0.5" stop-color="#a2a3a6"/><stop offset="1" stop-color="#77787b"/>
  </linearGradient>
</defs>
<g id="stage" transform="translate(670 120) scale(0.169271)">
  <!-- white glows over ring -->
  <ellipse cx="135" cy="690" rx="95" ry="112" fill="#fdf3f5" filter="url(#b16)" opacity="0.9"/>
  <ellipse cx="1425" cy="480" rx="78" ry="120" fill="#fdf3f5" filter="url(#b16)" opacity="0.9"/>
  <!-- right arm rail -->
  <path d="M720 545 L766 482 L900 352 L1060 368 L1060 560 L1020 602 Z" fill="#8b8c8f"/>
  <path d="M890 362 L1060 368 L1060 402 L850 412 Z" fill="#1f2023"/>
  <path d="M850 440 L1045 420 L1045 520 L760 522 Z" fill="url(#railG)"/>
  <path d="M820 462 L1045 470 L1045 480 L812 470 Z" fill="#3a3b3e"/>
  <!-- right motor -->
  <path d="M1040 410 L1130 310 L1332 330 L1252 432 Z" fill="#c5c6c8"/>
  <path d="M1040 410 L1252 432 L1242 602 L1030 580 Z" fill="#aeafb2"/>
  <path d="M1040 410 L1120 418 L1112 590 L1030 580 Z" fill="#d4d5d6"/>
  <path d="M1112 480 L1248 492 L1242 602 L1112 590 Z" fill="#8f9093"/>
  <path d="M1252 432 L1332 330 L1302 560 L1242 602 Z" fill="#dcdcdd"/>
  <path d="M1285 400 L1392 380 L1392 572 L1285 577 Z" fill="#141416"/>
  <path d="M1345 440 L1415 385 L1462 440 L1456 560 L1382 586 L1345 572 Z" fill="#d6d7d9"/>
  <path d="M1345 440 L1392 420 L1390 582 L1345 572 Z" fill="#9aa0a9"/>
  <ellipse cx="1432" cy="486" rx="23" ry="36" fill="#111214"/>
  <path d="M1160 576 Q1200 600 1262 570" fill="none" stroke="#222" stroke-width="7"/>
  <!-- back-left motor -->
  <path d="M325 95 L400 60 L402 292 L325 272 Z" fill="#b4b5b7"/>
  <path d="M360 82 L470 68 L472 282 L360 296 Z" fill="#141416"/>
  <path d="M430 110 L512 80 L512 252 L430 272 Z" fill="#cbcccd"/>
  <!-- back-right small block -->
  <path d="M800 160 L880 154 L882 252 L800 262 Z" fill="#d2d3d4"/>
  <path d="M842 166 L880 160 L886 232 L846 238 Z" fill="#151517"/>
  <!-- lower-left arm -->
  <path d="M265 380 L372 338 L372 440 L422 472 L270 472 Z" fill="#6d6e71"/>
  <path d="M140 530 L240 460 L722 475 L722 562 L500 756 L262 782 L85 762 L85 640 Z" fill="#2b2c2f"/>
  <path d="M140 530 L240 460 L660 472 L500 560 L330 578 Z" fill="#c7c8ca"/>
  <path d="M378 492 L450 445 L484 450 L412 502 Z" fill="#18191b"/>
  <path d="M500 506 L562 465 L596 470 L540 512 Z" fill="#18191b"/>
  <path d="M520 680 L560 600 L705 498 L712 545 Z" fill="#77787b"/>
  <path d="M480 555 L562 600 L522 642 L500 620 Z" fill="#5d5e61"/>
  <path d="M345 580 L480 555 L502 620 L496 756 L345 732 Z" fill="#dfdfe0"/>
  <ellipse cx="425" cy="626" rx="24" ry="15" fill="#1a1b1d" transform="rotate(-20 425 626)"/>
  <path d="M140 565 L332 585 L342 732 L270 746 L140 602 Z" fill="#151517"/>
  <path d="M85 632 L140 600 L272 616 L236 642 Z" fill="#b2b3b5"/>
  <path d="M85 632 L236 606 L270 642 L266 782 L85 762 Z" fill="#e9e9ea"/>
  <path d="M236 606 L270 642 L266 782 L240 770 Z" fill="#c3c4c6"/>
  <circle cx="155" cy="710" r="39" fill="#0e0f11"/>
  <circle cx="160" cy="702" r="16" fill="#3c3e42"/>
  <!-- top plate -->
  <path d="M370 340 L500 240 L950 215 L770 386 Z" fill="#b7b8ba"/>
  <path d="M370 340 L770 386 L766 482 L370 436 Z" fill="#e4e4e5"/>
  <path d="M770 386 L950 215 L950 330 L766 482 Z" fill="#1e1f22"/>
  <!-- cylinder -->
  <path d="M505 118 L795 118 L795 290 A145 45 0 0 1 505 290 Z" fill="url(#cyl)"/>
  <ellipse cx="650" cy="122" rx="150" ry="54" fill="url(#cylTop)"/>
  <path d="M500 130 A150 54 0 0 0 800 130 L800 150 A150 54 0 0 1 500 150 Z" fill="#98999c"/>
  <ellipse cx="641" cy="108" rx="29" ry="13" fill="#101113"/>
</g>
<!-- ===== optical encoder (4.6542x zoom of region 970,170) ===== -->
<defs>
  <linearGradient id="flex" x1="0" y1="0" x2="1" y2="0">
    <stop offset="0" stop-color="#e39a22"/><stop offset="0.5" stop-color="#f6b845"/><stop offset="1" stop-color="#e29a24"/>
  </linearGradient>
  <pattern id="ticks" width="40" height="22" patternUnits="userSpaceOnUse">
    <rect width="40" height="22" fill="#eaa93c"/>
    <rect x="6" y="9" width="30" height="3" fill="#c98a22"/>
  </pattern>
</defs>
<g id="encoder" transform="translate(970 170) scale(0.214859)">
  <!-- glow over ring at lower right -->
  <ellipse cx="1000" cy="870" rx="70" ry="58" fill="#fff6e4" filter="url(#b16)" opacity="0.9"/>
  <!-- shadow -->
  <ellipse cx="470" cy="865" rx="110" ry="22" fill="#c4c7ce" filter="url(#b16)" opacity="0.85"/>
  <ellipse cx="760" cy="900" rx="200" ry="10" fill="#c9ccd3" filter="url(#b16)" opacity="0.8"/>
  <!-- ruler -->
  <g transform="translate(65 378) rotate(-25.5)">
    <rect x="0" y="0" width="70" height="535" fill="#eaa93c"/>
    <rect x="4" y="6" width="62" height="523" fill="url(#ticks)"/>
    <rect x="0" y="0" width="8" height="535" fill="#dc9a2e"/>
  </g>
  <!-- laser beam -->
  <path d="M195 497 L575 205 L582 214 L206 518 Z" fill="#b9bdc9"/>
  <path d="M195 497 L575 205 L577 208 L198 503 Z" fill="#8e93a4"/>
  <circle cx="186" cy="511" r="11" fill="#f08a8a"/>
  <!-- flex cable -->
  <path d="M610 252 L676 248 L706 436 L746 438 L746 622 L678 622 L678 446 L640 446 Z" fill="url(#flex)"/>
  <path d="M648 275 L664 274 L690 425 L676 428 Z" fill="#f9cb6a"/>
  <!-- sensor head -->
  <path d="M546 72 L680 62 Q690 62 692 72 L725 232 Q726 242 716 243 L575 255 Q566 255 564 246 L535 84 Q534 73 546 72 Z" fill="#35373c"/>
  <path d="M612 68 L650 250" stroke="#26282c" stroke-width="4" fill="none"/>
  <path d="M548 168 L710 150" stroke="#26282c" stroke-width="4" fill="none"/>
  <circle cx="627" cy="157" r="30" fill="#1d1f23"/>
  <circle cx="627" cy="157" r="23" fill="#a4e0ef"/>
  <rect x="623" y="146" width="7" height="22" rx="3" fill="#5fb2cc"/>
  <!-- base -->
  <path d="M590 848 L900 852 L906 888 L598 886 Z" fill="#f0a934"/>
  <path d="M455 566 L568 564 L582 600 L632 602 L642 842 L592 846 L602 900 L526 903 Z" fill="#33353a"/>
  <path d="M586 620 L832 620 L886 846 L636 846 Z" fill="#3b3e44"/>
  <path d="M586 620 L600 620 L645 846 L632 846 Z" fill="#222428"/>
  <path d="M818 616 L840 590 L912 590 L986 904 L910 909 Z" fill="#33353a"/>
  <path d="M818 616 L832 616 L890 850 L880 850 Z" fill="#222428"/>
</g>
<!-- ===== axes sketches (4.2667x zoom) ===== -->
<g id="axesLeft" transform="translate(120 420) scale(0.234375)" fill="none" stroke="#0b0b0b" stroke-width="11" stroke-linejoin="miter" stroke-linecap="butt">
  <path d="M410 185 L335 495 L815 500"/>
  <path d="M375 203 L412 183 L462 210"/>
  <path d="M780 470 L817 500 L780 528"/>
  <path d="M597 215 L625 308 L757 310 L655 367 L685 460 L582 402 L472 460 L528 367 L420 308 L557 308 Z" stroke-width="10"/>
  <path d="M1020 592 L940 865 L1410 867"/>
  <path d="M978 610 L1022 590 L1062 607"/>
  <path d="M1378 840 L1412 867 L1378 893"/>
  <ellipse cx="1235" cy="710" rx="197" ry="124" transform="rotate(-9 1235 710)" stroke-width="10"/>
  <text x="444" y="137" text-anchor="middle" font-size="90" font-style="italic" style="fill:#0b0b0b;stroke:#0b0b0b;stroke-width:1.6" textLength="68" lengthAdjust="spacingAndGlyphs">y</text>
  <text x="870" y="523" text-anchor="middle" font-size="96" font-style="italic" style="fill:#0b0b0b;stroke:#0b0b0b;stroke-width:1.6" textLength="72" lengthAdjust="spacingAndGlyphs">x</text>
  <text x="1072" y="543" text-anchor="middle" font-size="90" font-style="italic" style="fill:#0b0b0b;stroke:#0b0b0b;stroke-width:1.6" textLength="68" lengthAdjust="spacingAndGlyphs">y</text>
  <text x="1466" y="888" text-anchor="middle" font-size="96" font-style="italic" style="fill:#0b0b0b;stroke:#0b0b0b;stroke-width:1.6" textLength="72" lengthAdjust="spacingAndGlyphs">x</text>
</g>
<g id="axesRight" transform="translate(1120 420) scale(0.234375)" fill="none" stroke="#0b0b0b" stroke-width="11" stroke-linejoin="miter" stroke-linecap="butt">
  <path d="M390 190 L470 497 L940 498"/>
  <path d="M352 210 L388 188 L450 208"/>
  <path d="M905 472 L942 498 L905 525"/>
  <path d="M522 430 C508 300 540 215 595 218 C660 222 720 420 780 448 C808 458 792 345 832 343" stroke-width="10" stroke-linecap="round"/>
  <path d="M125 595 L205 853 L655 853"/>
  <path d="M88 612 L123 593 L180 610"/>
  <path d="M620 828 L657 853 L620 878"/>
  <path d="M272 606 C260 560 330 538 375 548 C420 540 460 560 468 590 C520 575 580 600 572 640 C570 655 555 665 545 668 C590 690 590 745 545 772 C535 800 470 830 400 778 C350 810 265 790 255 742 C250 725 262 712 275 706 C190 700 160 620 272 606 Z" stroke-width="8.5" stroke-linejoin="round"/>
  <text x="372" y="134" text-anchor="middle" font-size="88" style="fill:#0b0b0b;stroke:#0b0b0b;stroke-width:1.6" textLength="70" lengthAdjust="spacingAndGlyphs">y</text>
  <text x="1003" y="523" text-anchor="middle" font-size="96" style="fill:#0b0b0b;stroke:#0b0b0b;stroke-width:1.6" textLength="78" lengthAdjust="spacingAndGlyphs">x</text>
  <text x="110" y="545" text-anchor="middle" font-size="88" style="fill:#0b0b0b;stroke:#0b0b0b;stroke-width:1.6" textLength="70" lengthAdjust="spacingAndGlyphs">y</text>
  <text x="713" y="876" text-anchor="middle" font-size="96" style="fill:#0b0b0b;stroke:#0b0b0b;stroke-width:1.6" textLength="72" lengthAdjust="spacingAndGlyphs">x</text>
</g>
<!-- ===== micromanipulation (6.024x zoom of region 220,680) ===== -->
<g id="micro" transform="translate(220 680) scale(0.166003)">
  <path d="M130 695 L1120 685 L1330 900 L340 912 Z" fill="url(#sheetG)"/>
  <ellipse cx="735" cy="788" rx="165" ry="42" fill="#1f2023"/>
  <circle cx="685" cy="815" r="11" fill="#17181b"/>
  <circle cx="781" cy="748" r="10" fill="#222327"/>
  <circle cx="870" cy="795" r="7" fill="#17181b"/>
  <circle cx="637" cy="766" r="10" fill="#222327"/>
  <circle cx="631" cy="743" r="7" fill="#111214"/>
  <circle cx="848" cy="797" r="10" fill="#222327"/>
  <circle cx="708" cy="818" r="8" fill="#2b2c30"/>
  <circle cx="584" cy="758" r="8" fill="#222327"/>
  <circle cx="631" cy="817" r="7" fill="#17181b"/>
  <circle cx="629" cy="747" r="10" fill="#2b2c30"/>
  <circle cx="554" cy="798" r="9" fill="#222327"/>
  <circle cx="780" cy="730" r="8" fill="#2b2c30"/>
  <circle cx="557" cy="768" r="11" fill="#2b2c30"/>
  <circle cx="654" cy="757" r="10" fill="#222327"/>
  <circle cx="740" cy="743" r="10" fill="#17181b"/>
  <circle cx="837" cy="769" r="10" fill="#2b2c30"/>
  <circle cx="665" cy="818" r="10" fill="#111214"/>
  <circle cx="832" cy="799" r="9" fill="#17181b"/>
  <circle cx="887" cy="804" r="11" fill="#111214"/>
  <circle cx="706" cy="824" r="11" fill="#17181b"/>
  <circle cx="857" cy="762" r="11" fill="#111214"/>
  <circle cx="894" cy="804" r="8" fill="#222327"/>
  <circle cx="587" cy="818" r="10" fill="#222327"/>
  <circle cx="593" cy="800" r="12" fill="#111214"/>
  <circle cx="817" cy="749" r="9" fill="#2b2c30"/>
  <circle cx="680" cy="740" r="8" fill="#17181b"/>
  <circle cx="789" cy="817" r="8" fill="#111214"/>
  <circle cx="791" cy="747" r="9" fill="#222327"/>
  <circle cx="619" cy="805" r="10" fill="#222327"/>
  <circle cx="681" cy="736" r="11" fill="#17181b"/>
  <circle cx="562" cy="800" r="13" fill="#111214"/>
  <circle cx="627" cy="810" r="10" fill="#111214"/>
  <circle cx="831" cy="798" r="8" fill="#222327"/>
  <circle cx="854" cy="815" r="8" fill="#222327"/>
  <circle cx="553" cy="764" r="11" fill="#17181b"/>
  <circle cx="845" cy="744" r="8" fill="#2b2c30"/>
  <circle cx="884" cy="764" r="10" fill="#17181b"/>
  <circle cx="847" cy="731" r="10" fill="#111214"/>
  <circle cx="693" cy="816" r="11" fill="#2b2c30"/>
  <circle cx="573" cy="792" r="10" fill="#222327"/>
  <circle cx="876" cy="763" r="8" fill="#17181b"/>
  <circle cx="741" cy="739" r="11" fill="#17181b"/>
  <circle cx="694" cy="742" r="9" fill="#222327"/>
  <circle cx="662" cy="813" r="10" fill="#2b2c30"/>
  <circle cx="633" cy="742" r="12" fill="#222327"/>
  <circle cx="795" cy="728" r="11" fill="#222327"/>
  <circle cx="780" cy="826" r="11" fill="#17181b"/>
  <circle cx="771" cy="736" r="8" fill="#2b2c30"/>
  <circle cx="559" cy="804" r="13" fill="#2b2c30"/>
  <circle cx="829" cy="801" r="10" fill="#2b2c30"/>
  <circle cx="779" cy="830" r="12" fill="#17181b"/>
  <circle cx="577" cy="792" r="12" fill="#17181b"/>
  <circle cx="790" cy="749" r="9" fill="#222327"/>
  <circle cx="621" cy="791" r="12" fill="#2b2c30"/>
  <circle cx="895" cy="814" r="11" fill="#111214"/>
  <circle cx="583" cy="818" r="11" fill="#222327"/>
  <circle cx="835" cy="775" r="11" fill="#111214"/>
  <circle cx="774" cy="745" r="12" fill="#111214"/>
  <circle cx="663" cy="744" r="10" fill="#222327"/>
  <circle cx="907" cy="793" r="11" fill="#17181b"/>
  <circle cx="552" cy="767" r="10" fill="#222327"/>
  <circle cx="789" cy="745" r="9" fill="#2b2c30"/>
  <circle cx="565" cy="776" r="9" fill="#111214"/>
  <circle cx="787" cy="750" r="11" fill="#111214"/>
  <circle cx="644" cy="732" r="10" fill="#222327"/>
  <circle cx="591" cy="767" r="7" fill="#111214"/>
  <circle cx="761" cy="731" r="12" fill="#222327"/>
  <circle cx="802" cy="823" r="11" fill="#17181b"/>
  <circle cx="668" cy="824" r="10" fill="#17181b"/>
  <circle cx="812" cy="756" r="8" fill="#17181b"/>
  <circle cx="755" cy="734" r="10" fill="#17181b"/>
  <circle cx="589" cy="802" r="10" fill="#222327"/>
  <circle cx="686" cy="738" r="10" fill="#111214"/>
  <circle cx="614" cy="774" r="10" fill="#2b2c30"/>
  <circle cx="896" cy="751" r="8" fill="#111214"/>
  <circle cx="806" cy="810" r="10" fill="#17181b"/>
  <circle cx="669" cy="740" r="8" fill="#2b2c30"/>
  <circle cx="774" cy="724" r="8" fill="#2b2c30"/>
  <circle cx="848" cy="827" r="13" fill="#222327"/>
  <circle cx="733" cy="745" r="12" fill="#222327"/>
  <circle cx="911" cy="773" r="8" fill="#111214"/>
  <circle cx="871" cy="775" r="10" fill="#2b2c30"/>
  <circle cx="666" cy="830" r="7" fill="#111214"/>
  <circle cx="642" cy="797" r="9" fill="#2b2c30"/>
  <circle cx="631" cy="774" r="13" fill="#222327"/>
  <circle cx="841" cy="770" r="9" fill="#17181b"/>
  <circle cx="831" cy="757" r="12" fill="#111214"/>
  <circle cx="830" cy="738" r="13" fill="#111214"/>
  <circle cx="844" cy="830" r="10" fill="#2b2c30"/>
  <circle cx="822" cy="802" r="11" fill="#111214"/>
  <circle cx="833" cy="778" r="5" fill="#9a9b9d"/>
  <circle cx="604" cy="769" r="5" fill="#9a9b9d"/>
  <circle cx="668" cy="795" r="5" fill="#9a9b9d"/>
  <circle cx="658" cy="778" r="5" fill="#9a9b9d"/>
  <circle cx="632" cy="766" r="5" fill="#9a9b9d"/>
  <circle cx="859" cy="786" r="5" fill="#9a9b9d"/>
  <circle cx="838" cy="796" r="5" fill="#9a9b9d"/>
  <circle cx="611" cy="800" r="5" fill="#9a9b9d"/>
  <circle cx="844" cy="813" r="5" fill="#9a9b9d"/>
  <circle cx="668" cy="774" r="5" fill="#9a9b9d"/>
  <circle cx="842" cy="796" r="5" fill="#9a9b9d"/>
  <circle cx="738" cy="775" r="5" fill="#9a9b9d"/>
  <circle cx="716" cy="799" r="5" fill="#9a9b9d"/>
  <circle cx="670" cy="805" r="5" fill="#9a9b9d"/>
  <path d="M100 215 L150 225 L250 425 L422 758 L410 770 L205 450 Z" fill="#2a2c30"/>
  <path d="M150 225 L178 208 L345 440 L368 520 L482 758 L470 768 L330 525 L250 425 Z" fill="#1d1f23"/>
  <path d="M112 235 L135 238 L225 430 L400 745 L215 455 Z" fill="#4b4e54"/>
  <path d="M88 184 L168 198 L178 208 L150 226 L100 216 Z" fill="#c9cbce"/>
  <path d="M88 184 L168 198 L150 210 L96 200 Z" fill="#eeeeef"/>
  <path d="M1118 470 L1182 448 L1402 815 Q1370 838 1320 836 Z" fill="#1d1f23"/>
  <path d="M1160 470 L1178 462 L1385 812 L1370 820 Z" fill="#3d4046"/>
  <g transform="translate(970 258) rotate(36)">
    <ellipse cx="0" cy="0" rx="286" ry="166" fill="#25272c"/>
    <ellipse cx="2" cy="-12" rx="256" ry="140" fill="url(#glassG)"/>
    <ellipse cx="0" cy="0" rx="284" ry="164" fill="none" stroke="#3a3d43" stroke-width="5"/>
  </g>
</g>
<!-- ===== precise surgery robot (6.8263x zoom of region 480,730) ===== -->
<defs>
  <radialGradient id="domeG" cx="0.42" cy="0.42" r="0.62">
    <stop offset="0" stop-color="#f3f4f5"/><stop offset="0.3" stop-color="#c9ccd1"/><stop offset="0.7" stop-color="#858c97"/><stop offset="1" stop-color="#4c5360"/>
  </radialGradient>
  <linearGradient id="neckG" x1="0" y1="0" x2="1" y2="0">
    <stop offset="0" stop-color="#8a8e95"/><stop offset="0.5" stop-color="#c9ccd0"/><stop offset="1" stop-color="#80848b"/>
  </linearGradient>
  <linearGradient id="headG" x1="0" y1="0" x2="1" y2="1">
    <stop offset="0" stop-color="#84878e"/><stop offset="0.4" stop-color="#b4b7bc"/><stop offset="1" stop-color="#7f838a"/>
  </linearGradient>
  <linearGradient id="rodG" x1="0" y1="0" x2="0" y2="1">
    <stop offset="0" stop-color="#dfe1e4"/><stop offset="1" stop-color="#767a82"/>
  </linearGradient>
</defs>
<g id="surgery" transform="translate(480 730) scale(0.146492)">
  <ellipse cx="640" cy="890" rx="500" ry="80" fill="#7d6a42" opacity="0.6" filter="url(#b30)"/>
  <path d="M165 730 C165 600 300 490 560 490 C800 490 915 620 915 740 C915 880 760 975 540 975 C320 975 165 880 165 730 Z" fill="url(#domeG)"/>
  <path d="M200 820 C320 940 720 960 890 820 C860 920 720 975 540 975 C350 975 230 910 200 820 Z" fill="#4d5460" opacity="0.75"/>
  <path d="M250 580 C330 600 430 590 520 610 C560 650 620 690 720 680 C700 640 640 560 610 510 C480 480 320 510 250 580 Z" fill="#e9eaec" opacity="0.85"/>
  <!-- neck -->
  <path d="M470 470 L592 470 L600 530 Q540 560 475 540 Z" fill="#4b4e55"/>
  <path d="M485 330 L580 330 L582 480 L482 480 Z" fill="url(#neckG)"/>
  <path d="M478 312 L588 318 L586 358 L480 352 Z" fill="#6d7178"/>
  <path d="M490 322 L575 326 L574 345 L490 342 Z" fill="#c5d0dc"/>
  <!-- fin and rods -->
  <path d="M578 530 Q600 500 620 540 L652 600 L725 652 L700 684 L600 684 L540 632 Z" fill="#b9bcc1"/>
  <path d="M655 602 L1050 458 L1062 482 L742 614 Z" fill="#6a6e76"/>
  <path d="M655 600 L1050 456 L1056 468 L700 604 Z" fill="#d9dbde"/>
  <path d="M690 640 L1165 468 L1180 498 L736 660 Z" fill="#666a72"/>
  <path d="M690 638 L1165 466 L1172 480 L720 646 Z" fill="#dfe1e4"/>
  <path d="M690 640 L736 658 L722 668 L668 620 Z" fill="#5d616a"/>
  <!-- head -->
  <path d="M400 190 C395 120 470 85 560 85 C680 90 780 160 815 222 L885 305 L850 345 L840 382 L740 426 C720 430 700 420 690 400 L600 312 L500 300 C440 300 405 250 400 190 Z" fill="url(#headG)"/>
  <path d="M520 100 C600 90 720 140 800 215 L700 235 C620 190 560 170 520 100 Z" fill="#e6e7e9"/>
  <path d="M610 315 L690 345 L722 360 L850 345 L840 382 L740 426 C720 430 700 420 690 400 Z" fill="#1b1d21"/>
  <path d="M655 302 L730 240 L815 222 L885 305 L842 332 L720 356 L688 340 Z" fill="#15171b"/>
  <path d="M675 310 L742 252 L810 236 L866 300 L830 320 L726 340 Z" fill="#2f7fb6"/>
  <path d="M742 252 L770 246 L800 326 L770 332 Z" fill="#1d4f77"/>
  <path d="M690 312 L742 260 L760 330 L728 338 Z" fill="#5fb0de"/>
</g>
<!-- ===== scanning probe microscope (6.4x zoom of region 690,740) ===== -->
<defs>
  <radialGradient id="atomG" cx="0.42" cy="0.3" r="0.75">
    <stop offset="0" stop-color="#fbdc84"/><stop offset="0.35" stop-color="#f0b43a"/><stop offset="0.8" stop-color="#d98f1e"/><stop offset="1" stop-color="#b06c12"/>
  </radialGradient>
  <linearGradient id="ptrG" x1="0" y1="0" x2="0" y2="1">
    <stop offset="0" stop-color="#3a3c40"/><stop offset="0.3" stop-color="#0c0d0f"/><stop offset="1" stop-color="#1c1d20"/>
  </linearGradient>
</defs>
<g id="spm" transform="translate(690 740) scale(0.15625)">
  <ellipse cx="700" cy="930" rx="560" ry="40" fill="#b98a35" opacity="0.5" filter="url(#b16)"/>
  <ellipse cx="150" cy="716" rx="78" ry="60" fill="url(#atomG)" stroke="#b97a1c" stroke-width="3"/>
  <ellipse cx="290" cy="713" rx="78" ry="60" fill="url(#atomG)" stroke="#b97a1c" stroke-width="3"/>
  <ellipse cx="430" cy="710" rx="78" ry="60" fill="url(#atomG)" stroke="#b97a1c" stroke-width="3"/>
  <ellipse cx="570" cy="707" rx="78" ry="60" fill="url(#atomG)" stroke="#b97a1c" stroke-width="3"/>
  <ellipse cx="710" cy="704" rx="78" ry="60" fill="url(#atomG)" stroke="#b97a1c" stroke-width="3"/>
  <ellipse cx="850" cy="701" rx="78" ry="60" fill="url(#atomG)" stroke="#b97a1c" stroke-width="3"/>
  <ellipse cx="990" cy="698" rx="78" ry="60" fill="url(#atomG)" stroke="#b97a1c" stroke-width="3"/>
  <ellipse cx="212" cy="778" rx="78" ry="60" fill="url(#atomG)" stroke="#b97a1c" stroke-width="3"/>
  <ellipse cx="352" cy="775" rx="78" ry="60" fill="url(#atomG)" stroke="#b97a1c" stroke-width="3"/>
  <ellipse cx="492" cy="772" rx="78" ry="60" fill="url(#atomG)" stroke="#b97a1c" stroke-width="3"/>
  <ellipse cx="632" cy="769" rx="78" ry="60" fill="url(#atomG)" stroke="#b97a1c" stroke-width="3"/>
  <ellipse cx="772" cy="766" rx="78" ry="60" fill="url(#atomG)" stroke="#b97a1c" stroke-width="3"/>
  <ellipse cx="912" cy="763" rx="78" ry="60" fill="url(#atomG)" stroke="#b97a1c" stroke-width="3"/>
  <ellipse cx="1052" cy="760" rx="78" ry="60" fill="url(#atomG)" stroke="#b97a1c" stroke-width="3"/>
  <ellipse cx="274" cy="840" rx="78" ry="60" fill="url(#atomG)" stroke="#b97a1c" stroke-width="3"/>
  <ellipse cx="414" cy="837" rx="78" ry="60" fill="url(#atomG)" stroke="#b97a1c" stroke-width="3"/>
  <ellipse cx="554" cy="834" rx="78" ry="60" fill="url(#atomG)" stroke="#b97a1c" stroke-width="3"/>
  <ellipse cx="694" cy="831" rx="78" ry="60" fill="url(#atomG)" stroke="#b97a1c" stroke-width="3"/>
  <ellipse cx="834" cy="828" rx="78" ry="60" fill="url(#atomG)" stroke="#b97a1c" stroke-width="3"/>
  <ellipse cx="974" cy="825" rx="78" ry="60" fill="url(#atomG)" stroke="#b97a1c" stroke-width="3"/>
  <ellipse cx="1114" cy="822" rx="78" ry="60" fill="url(#atomG)" stroke="#b97a1c" stroke-width="3"/>
  <ellipse cx="336" cy="902" rx="78" ry="60" fill="url(#atomG)" stroke="#b97a1c" stroke-width="3"/>
  <ellipse cx="476" cy="899" rx="78" ry="60" fill="url(#atomG)" stroke="#b97a1c" stroke-width="3"/>
  <ellipse cx="616" cy="896" rx="78" ry="60" fill="url(#atomG)" stroke="#b97a1c" stroke-width="3"/>
  <ellipse cx="756" cy="893" rx="78" ry="60" fill="url(#atomG)" stroke="#b97a1c" stroke-width="3"/>
  <ellipse cx="896" cy="890" rx="78" ry="60" fill="url(#atomG)" stroke="#b97a1c" stroke-width="3"/>
  <ellipse cx="1036" cy="887" rx="78" ry="60" fill="url(#atomG)" stroke="#b97a1c" stroke-width="3"/>
  <ellipse cx="1176" cy="884" rx="78" ry="60" fill="url(#atomG)" stroke="#b97a1c" stroke-width="3"/>
  <g stroke="#d8263c" fill="none" stroke-linecap="round" opacity="0.9">
    <path d="M185 728 C400 718 800 722 1040 710" stroke-width="11"/>
    <path d="M270 810 C500 800 800 810 1130 790" stroke-width="13"/>
    <path d="M195 722 L335 862" stroke-width="11"/>
    <path d="M1030 705 L1200 862" stroke-width="9"/>
    <path d="M1110 870 L1235 850" stroke-width="9"/>
    <path d="M470 712 L560 800" stroke-width="6"/>
    <path d="M745 708 L860 800" stroke-width="6"/>
  </g>
  <path d="M598 305 L792 462" stroke="#8d9096" stroke-width="5" fill="none"/>
  <g transform="translate(370 150) rotate(31.5)">
    <rect x="-8" y="-30" width="275" height="62" rx="28" fill="url(#ptrG)"/>
    <rect x="205" y="-26" width="10" height="54" fill="#4a4c50"/>
  </g>
  <path d="M925 232 L905 322" stroke="#8d9096" stroke-width="5" fill="none"/>
  <ellipse cx="995" cy="190" rx="128" ry="56" fill="#6f8ba8" transform="rotate(24 995 190)"/>
  <ellipse cx="990" cy="184" rx="118" ry="46" fill="#7c97b3" transform="rotate(24 990 184)"/>
  <path d="M895 330 L1080 352 L1080 520 L1055 515 L1052 440 L895 412 Z" fill="#7f94a9"/>
  <path d="M1080 352 L1140 325 L1140 492 L1080 520 Z" fill="#5a6f85"/>
  <path d="M895 330 L958 310 L1140 325 L1080 352 Z" fill="#dfe4e9"/>
  <path d="M1080 352 L1080 520" stroke="#f2f4f6" stroke-width="7"/>
  <path d="M700 495 L880 420 L1052 440 L845 522 Z" fill="#aab7c3"/>
  <path d="M700 495 L845 522 L845 552 L700 542 Z" fill="#7b90a5"/>
  <path d="M845 522 L1052 440 L1052 472 L845 552 Z" fill="#1b1d21"/>
  <path d="M755 545 L822 550 L790 765 Z" fill="#5f7a93"/>
  <path d="M792 548 L822 550 L790 765 Z" fill="#2e4257"/>
</g>
<!-- ===== cell operation: petri dish (5.9077x zoom of region 940,740) ===== -->
<defs>
  <linearGradient id="waterG" x1="0" y1="0" x2="0" y2="1">
    <stop offset="0" stop-color="#a9d6ea"/><stop offset="0.45" stop-color="#7cbfe2"/><stop offset="1" stop-color="#58abd9"/>
  </linearGradient>
  <linearGradient id="needleL" x1="0" y1="0" x2="1" y2="0">
    <stop offset="0" stop-color="#a9cbe0"/><stop offset="1" stop-color="#2f6f9f"/>
  </linearGradient>
  <linearGradient id="needleR" x1="0" y1="0" x2="1" y2="0">
    <stop offset="0" stop-color="#c9d3dc"/><stop offset="1" stop-color="#6f869c"/>
  </linearGradient>
</defs>
<g id="cell" transform="translate(940 740) scale(0.169271)">
  <ellipse cx="1230" cy="785" rx="200" ry="26" fill="#b9bcc4" opacity="0.7" filter="url(#b16)"/>
  <!-- glass wall -->
  <path d="M260 615 A460 78 0 0 1 1180 615 L1180 770 A460 78 0 0 1 260 770 Z" fill="#e3f1f6" opacity="0.55"/>
  <!-- water -->
  <path d="M264 692 A456 70 0 0 1 1176 692 L1176 770 A456 76 0 0 1 264 770 Z" fill="url(#waterG)"/>
  <ellipse cx="720" cy="680" rx="450" ry="68" fill="#b4dcea"/>
  <ellipse cx="720" cy="664" rx="380" ry="48" fill="#9fd0e2"/>
  <path d="M270 700 A450 68 0 0 0 1170 700 L1170 715 A450 68 0 0 1 270 715 Z" fill="#d6ecf5" opacity="0.9"/>
  <ellipse cx="690" cy="762" rx="375" ry="52" fill="#4a9fd2" opacity="0.8"/>
  <ellipse cx="720" cy="615" rx="460" ry="78" fill="none" stroke="#7d9fb0" stroke-width="4"/>
  <path d="M260 615 L260 770 A460 78 0 0 0 1180 770 L1180 615" fill="none" stroke="#8fb6c8" stroke-width="4"/>
  <rect x="405" y="690" width="40" height="140" fill="#d9eef8" opacity="0.45"/>
  <!-- needles -->
  <path d="M283 268 L312 256 L586 680 L578 682 Z" fill="url(#needleL)"/>
  <path d="M1004 296 L1050 310 L884 680 L876 678 Z" fill="url(#needleR)"/>
</g>
<!-- ===== laser alignment (5.388x zoom of region 1170,660) ===== -->
<defs>
  <linearGradient id="brass" x1="0" y1="0" x2="1" y2="0">
    <stop offset="0" stop-color="#6b470c"/><stop offset="0.3" stop-color="#d9a53f"/><stop offset="0.55" stop-color="#a87618"/><stop offset="0.8" stop-color="#c08a26"/><stop offset="1" stop-color="#5e3e0a"/>
  </linearGradient>
  <linearGradient id="lensG" x1="0" y1="0" x2="1" y2="0">
    <stop offset="0" stop-color="#c2c4c8"/><stop offset="0.28" stop-color="#d4d6d9"/><stop offset="0.3" stop-color="#e6e7e9"/><stop offset="0.6" stop-color="#e0e1e3"/><stop offset="0.62" stop-color="#c9cbce"/><stop offset="1" stop-color="#cfd1d4"/>
  </linearGradient>
</defs>
<g id="laser" transform="translate(1170 660) scale(0.185598)">
  <ellipse cx="460" cy="880" rx="150" ry="30" fill="#b7a57a" opacity="0.6" filter="url(#b16)"/>
  <ellipse cx="800" cy="855" rx="90" ry="16" fill="#c9ccd3" opacity="0.7" filter="url(#b16)"/>
  <path d="M1045 70 L1200 68 L1222 612 L1072 612 Z" fill="#3a3c41"/>
  <path d="M1165 70 L1200 68 L1222 612 L1190 612 Z" fill="#4a4c52"/>
  <rect x="1172" y="110" width="22" height="8" fill="#e9eaec"/>
  <rect x="1054" y="114" width="65" height="5" fill="#c9cacd" opacity="0.85"/>
  <rect x="1173" y="142" width="22" height="8" fill="#e9eaec"/>
  <rect x="1174" y="170" width="34" height="8" fill="#e9eaec"/>
  <rect x="1057" y="174" width="55" height="5" fill="#c9cacd" opacity="0.85"/>
  <rect x="1175" y="202" width="34" height="8" fill="#e9eaec"/>
  <rect x="1176" y="226" width="34" height="8" fill="#e9eaec"/>
  <rect x="1059" y="230" width="40" height="5" fill="#c9cacd" opacity="0.85"/>
  <rect x="1177" y="254" width="28" height="8" fill="#e9eaec"/>
  <rect x="1178" y="286" width="22" height="8" fill="#e9eaec"/>
  <rect x="1061" y="290" width="40" height="5" fill="#c9cacd" opacity="0.85"/>
  <rect x="1179" y="318" width="28" height="8" fill="#e9eaec"/>
  <rect x="1180" y="350" width="34" height="8" fill="#e9eaec"/>
  <rect x="1064" y="354" width="55" height="5" fill="#c9cacd" opacity="0.85"/>
  <rect x="1181" y="378" width="34" height="8" fill="#e9eaec"/>
  <rect x="1182" y="402" width="22" height="8" fill="#e9eaec"/>
  <rect x="1066" y="406" width="65" height="5" fill="#c9cacd" opacity="0.85"/>
  <rect x="1183" y="426" width="34" height="8" fill="#e9eaec"/>
  <rect x="1184" y="454" width="34" height="8" fill="#e9eaec"/>
  <rect x="1068" y="458" width="40" height="5" fill="#c9cacd" opacity="0.85"/>
  <rect x="1185" y="486" width="22" height="8" fill="#e9eaec"/>
  <rect x="1186" y="510" width="34" height="8" fill="#e9eaec"/>
  <rect x="1070" y="514" width="40" height="5" fill="#c9cacd" opacity="0.85"/>
  <rect x="1187" y="538" width="22" height="8" fill="#e9eaec"/>
  <path d="M1095 258 L1160 248 L1162 280 L1100 288 Z" fill="#e8456e"/>
  <rect x="663" y="575" width="18" height="71" fill="#7a5a1a"/>
  <path d="M584 640 L760 640 L760 840 A88 28 0 0 1 584 840 Z" fill="url(#brass)"/>
  <ellipse cx="672" cy="640" rx="88" ry="28" fill="#2a2c32"/>
  <rect x="956" y="450" width="18" height="61" fill="#7a5a1a"/>
  <path d="M889 505 L1041 505 L1041 700 A76 24 0 0 1 889 700 Z" fill="url(#brass)"/>
  <ellipse cx="965" cy="505" rx="76" ry="24" fill="#2a2c32"/>
  <rect x="148" y="535" width="42" height="115" rx="14" fill="#1f2125"/>
  <circle cx="205" cy="502" r="40" fill="#26282d"/>
  <circle cx="140" cy="492" r="54" fill="#1b1d21"/>
  <ellipse cx="122" cy="472" rx="18" ry="12" fill="#8f9298" transform="rotate(-35 122 472)"/>
  <path d="M185 548 L300 545 L300 945 L185 925 Z" fill="#4b4e54"/>
  <path d="M300 545 L350 575 L350 940 L300 945 Z" fill="#24262b"/>
  <ellipse cx="390" cy="518" rx="82" ry="93" fill="url(#lensG)" stroke="#0d0e10" stroke-width="12"/>
  <ellipse cx="668" cy="432" rx="152" ry="148" fill="url(#lensG)" stroke="#0d0e10" stroke-width="13"/>
  <ellipse cx="968" cy="325" rx="133" ry="130" fill="url(#lensG)" stroke="#0d0e10" stroke-width="13"/>
  <path d="M330 535 L1150 262" stroke="#f3a0b4" stroke-width="14" opacity="0.6" fill="none"/>
  <path d="M330 535 L1150 262" stroke="#dc2f58" stroke-width="6" fill="none"/>
  <circle cx="658" cy="436" r="9" fill="#c41f45"/>
  <circle cx="955" cy="340" r="9" fill="#c41f45"/>
</g>
<!-- ===== text labels ===== -->
<g id="labels">
  <rect x="634.5" y="403.5" width="336" height="44.5" fill="#dbe7f4" stroke="#a9c4e2" stroke-width="1.3"/>
  <rect x="496" y="627.5" width="312" height="39" rx="9" fill="#f8efdf" opacity="0.94"/>
  <text x="642.9" y="52.0" font-size="45.1" font-weight="bold" textLength="283.6" lengthAdjust="spacingAndGlyphs" style="fill:#0b0b0b;stroke:#0b0b0b;stroke-width:0.15">Precise stage</text>
  <text x="431.5" y="128.7" font-size="33.1" textLength="175.0" lengthAdjust="spacingAndGlyphs" style="fill:#0b0b0b;stroke:#0b0b0b;stroke-width:0.45">Mobile robot</text>
  <text x="988.3" y="128.6" font-size="32.9" textLength="219.0" lengthAdjust="spacingAndGlyphs" style="fill:#0b0b0b;stroke:#0b0b0b;stroke-width:0.45">Optical encoder</text>
  <text x="661.4" y="438.4" font-size="36.3" textLength="283.5" lengthAdjust="spacingAndGlyphs" style="fill:#1212c4;stroke:#1212c4;stroke-width:0.45">Fusion &amp; Upgrade</text>
  <text x="590.7" y="479.6" font-size="31.3" textLength="158.1" lengthAdjust="spacingAndGlyphs" style="fill:#0b0b0b;stroke:#0b0b0b;stroke-width:0.45">Planar scale</text>
  <text x="139.6" y="584.0" font-size="30.9" textLength="171.0" lengthAdjust="spacingAndGlyphs" style="fill:#0b0b0b;stroke:#0b0b0b;stroke-width:0.45">Complex path</text>
  <text x="1267.8" y="582.9" font-size="30.1" textLength="139.6" lengthAdjust="spacingAndGlyphs" style="fill:#0b0b0b;stroke:#0b0b0b;stroke-width:0.45">Multi-scale</text>
  <text x="505.5" y="655.8" font-size="30.0" textLength="286.8" lengthAdjust="spacingAndGlyphs" style="fill:#0b0b0b;stroke:#0b0b0b;stroke-width:0.45">Ultra-precise Movement</text>
  <text x="192.2" y="892.8" font-size="31.3" textLength="251.8" lengthAdjust="spacingAndGlyphs" style="fill:#0b0b0b;stroke:#0b0b0b;stroke-width:0.45">Micromanipulation</text>
  <text x="510.3" y="914.4" font-size="30.4" textLength="103.1" lengthAdjust="spacingAndGlyphs" style="fill:#0b0b0b;stroke:#0b0b0b;stroke-width:0.45">Precise</text>
  <text x="506.6" y="943.8" font-size="30.4" textLength="106.8" lengthAdjust="spacingAndGlyphs" style="fill:#0b0b0b;stroke:#0b0b0b;stroke-width:0.45">surgery</text>
  <text x="700.5" y="928.0" font-size="32.3" textLength="219.8" lengthAdjust="spacingAndGlyphs" style="fill:#0b0b0b;stroke:#0b0b0b;stroke-width:0.45">Scanning Probe</text>
  <text x="730.7" y="962.6" font-size="31.4" textLength="163.3" lengthAdjust="spacingAndGlyphs" style="fill:#0b0b0b;stroke:#0b0b0b;stroke-width:0.45">microscope</text>
  <text x="971.6" y="926.0" font-size="32.3" textLength="191.6" lengthAdjust="spacingAndGlyphs" style="fill:#0b0b0b;stroke:#0b0b0b;stroke-width:0.45">Cell operation</text>
  <text x="1266.0" y="872.6" font-size="31.1" textLength="91.2" lengthAdjust="spacingAndGlyphs" style="fill:#0b0b0b;stroke:#0b0b0b;stroke-width:0.45">LASER</text>
  <text x="1249.7" y="909.2" font-size="31.1" textLength="134.2" lengthAdjust="spacingAndGlyphs" style="fill:#0b0b0b;stroke:#0b0b0b;stroke-width:0.45">alignment</text>
</g>
</svg>
</body>
</html>
